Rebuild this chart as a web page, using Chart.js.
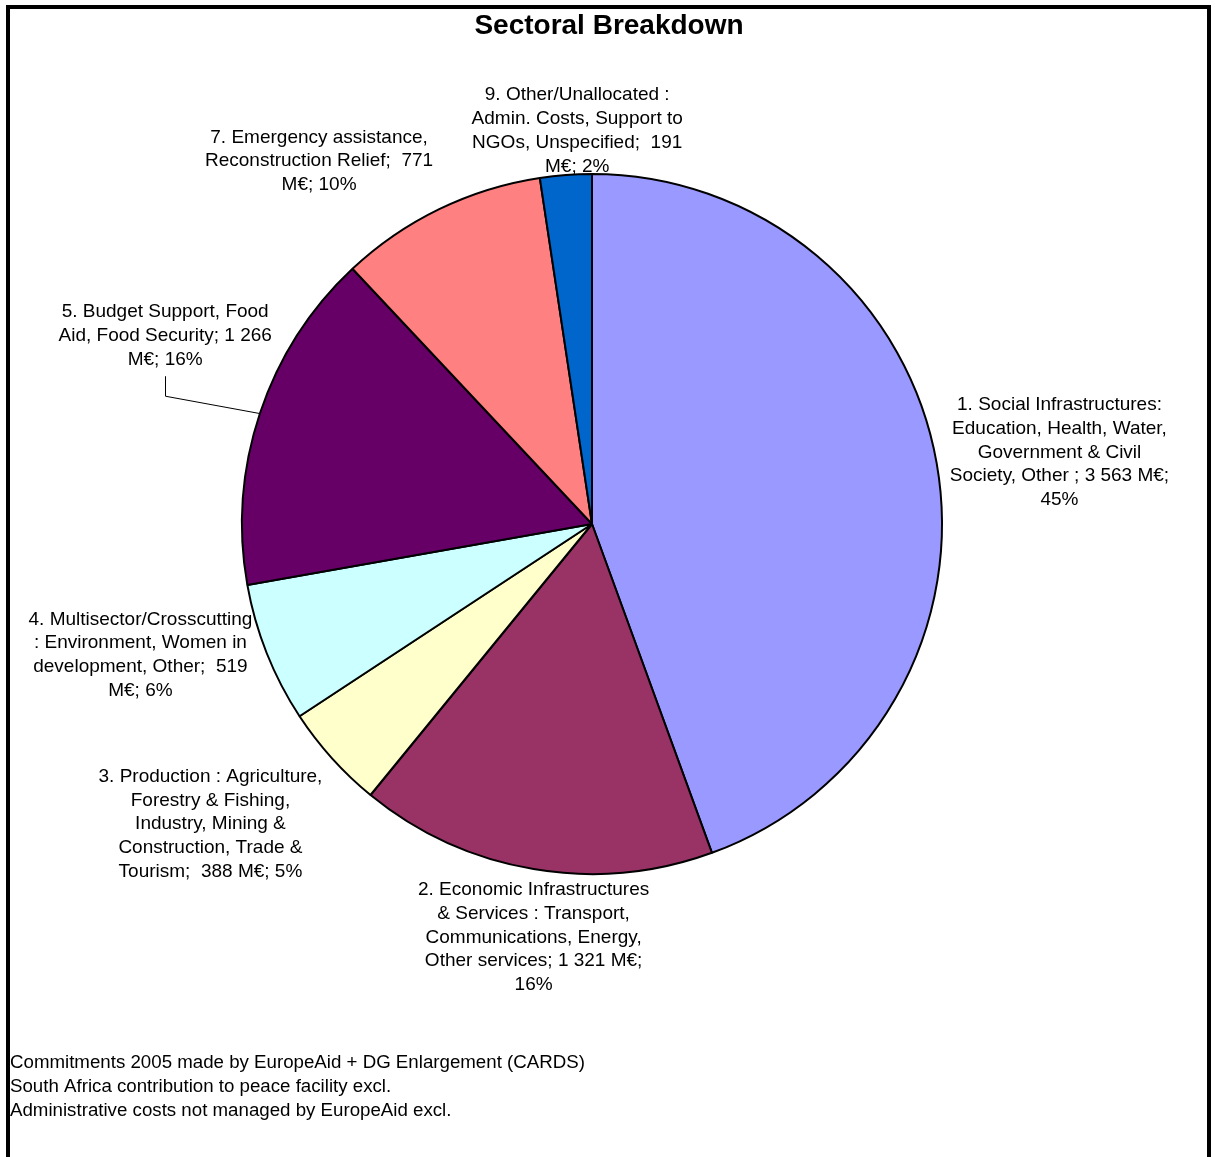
<!DOCTYPE html>
<html>
<head>
<meta charset="utf-8">
<title>Sectoral Breakdown</title>
<script src="https://cdn.jsdelivr.net/npm/chart.js@4/dist/chart.umd.min.js"></script>
<style>
    html, body { margin: 0; padding: 0; background: #fff; overflow: hidden; }
    #wrap { position: relative; width: 1215px; height: 1157px; }
    #frame {
        position: absolute; left: 6px; top: 5px; width: 1197px; height: 1200px;
        border: 4px solid #000; pointer-events: none;
    }
    canvas { position: absolute; left: 0; top: 0; }
</style>
</head>
<body>
<div id="wrap">
    <canvas id="pie" width="1215" height="1157"></canvas>
    <div id="frame"></div>
</div>
<script>
// sectors, in the order the slices go round (clockwise from 12 o'clock)
const sectors = [
    "1. Social Infrastructures",
    "2. Economic Infrastructures & Services",
    "3. Production",
    "4. Multisector/Crosscutting",
    "5. Budget Support, Food Aid, Food Security",
    "7. Emergency assistance, Reconstruction Relief",
    "9. Other/Unallocated"
];
// commitments in M€
const values = [3563, 1321, 388, 519, 1266, 771, 191];
// shares as printed on the chart
const shares = [45, 16, 5, 6, 16, 10, 2];
const colors = ["#9999FF", "#993366", "#FFFFCC", "#CCFFFF", "#660066", "#FF8080", "#0066CC"];

// data label text, wrapped the way the original shows it
const labelLines = [
    ["1. Social Infrastructures:", "Education, Health, Water,", "Government & Civil", "Society, Other ; 3 563 M€;", "45%"],
    ["2. Economic Infrastructures", "& Services : Transport,", "Communications, Energy,", "Other services; 1 321 M€;", "16%"],
    ["3. Production : Agriculture,", "Forestry & Fishing,", "Industry, Mining &", "Construction, Trade &", "Tourism;  388 M€; 5%"],
    ["4. Multisector/Crosscutting", ": Environment, Women in", "development, Other;  519", "M€; 6%"],
    ["5. Budget Support, Food", "Aid, Food Security; 1 266", "M€; 16%"],
    ["7. Emergency assistance,", "Reconstruction Relief;  771", "M€; 10%"],
    ["9. Other/Unallocated :", "Admin. Costs, Support to", "NGOs, Unspecified;  191", "M€; 2%"]
];

const footnotes = [
    "Commitments 2005 made by EuropeAid + DG Enlargement (CARDS)",
    "South Africa contribution to peace facility excl.",
    "Administrative costs not managed by EuropeAid excl."
];

const FONT = '"Liberation Sans", Arial, sans-serif';
const LINE_H = 23.7;
// hand nudges of the data labels (the original ones were dragged around)
const labelNudge = [[5, 1.5], [21, 0], [-31, 19.5], [-13, -19.5], [16, -63.5], [-66, -7], [20, 13]];
const leaderFor = 4; // the "Budget Support" label has a leader line

const labelsPlugin = {
    id: "excelLabels",
    afterDraw(chart) {
        const ctx = chart.ctx;
        const meta = chart.getDatasetMeta(0);
        ctx.save();
        ctx.fillStyle = "#000";

        // title
        ctx.font = "bold 28px " + FONT;
        ctx.textAlign = "center";
        ctx.textBaseline = "middle";
        ctx.fillText("Sectoral Breakdown", 609, 26);

        // data labels
        ctx.font = "19px " + FONT;
        meta.data.forEach((arc, i) => {
            const p = arc.getProps(["x", "y", "startAngle", "endAngle", "outerRadius"], true);
            const mid = (p.startAngle + p.endAngle) / 2;
            const dx = Math.cos(mid), dy = Math.sin(mid);
            const ax = p.x + (p.outerRadius + 10) * dx;
            const ay = p.y + (p.outerRadius + 10) * dy;
            const lines = labelLines[i];
            const w = Math.max(...lines.map(l => ctx.measureText(l).width));
            const h = lines.length * LINE_H;
            const cx = ax + w / 2 * dx + labelNudge[i][0];
            const cy = ay + h / 2 * dy + labelNudge[i][1];
            lines.forEach((l, k) => {
                ctx.fillText(l, cx, cy - h / 2 + LINE_H * (k + 0.5));
            });
            if (i === leaderFor) {
                const ex = p.x + p.outerRadius * dx;
                const ey = p.y + p.outerRadius * dy;
                ctx.strokeStyle = "#000";
                ctx.lineWidth = 1;
                ctx.beginPath();
                ctx.moveTo(Math.round(cx) + 0.5, cy + h / 2 + 5);
                ctx.lineTo(Math.round(cx) + 0.5, cy + h / 2 + 25);
                ctx.lineTo(ex, ey);
                ctx.stroke();
            }
        });

        // footnotes
        ctx.textAlign = "left";
        ctx.font = "18.7px " + FONT;
        footnotes.forEach((t, k) => ctx.fillText(t, 10, 1063 + k * 24));
        ctx.restore();
    }
};

new Chart(document.getElementById("pie"), {
    type: "pie",
    data: {
        labels: sectors,
        datasets: [{
            data: values,
            backgroundColor: colors,
            borderColor: "#000",
            borderWidth: 2
        }]
    },
    options: {
        responsive: false,
        animation: false,
        devicePixelRatio: 1,
        layout: { padding: { left: 241, top: 173, right: 272, bottom: 282 } },
        plugins: {
            legend: { display: false },
            tooltip: { enabled: false },
            title: { display: false }
        }
    },
    plugins: [labelsPlugin]
});
</script>
</body>
</html>
